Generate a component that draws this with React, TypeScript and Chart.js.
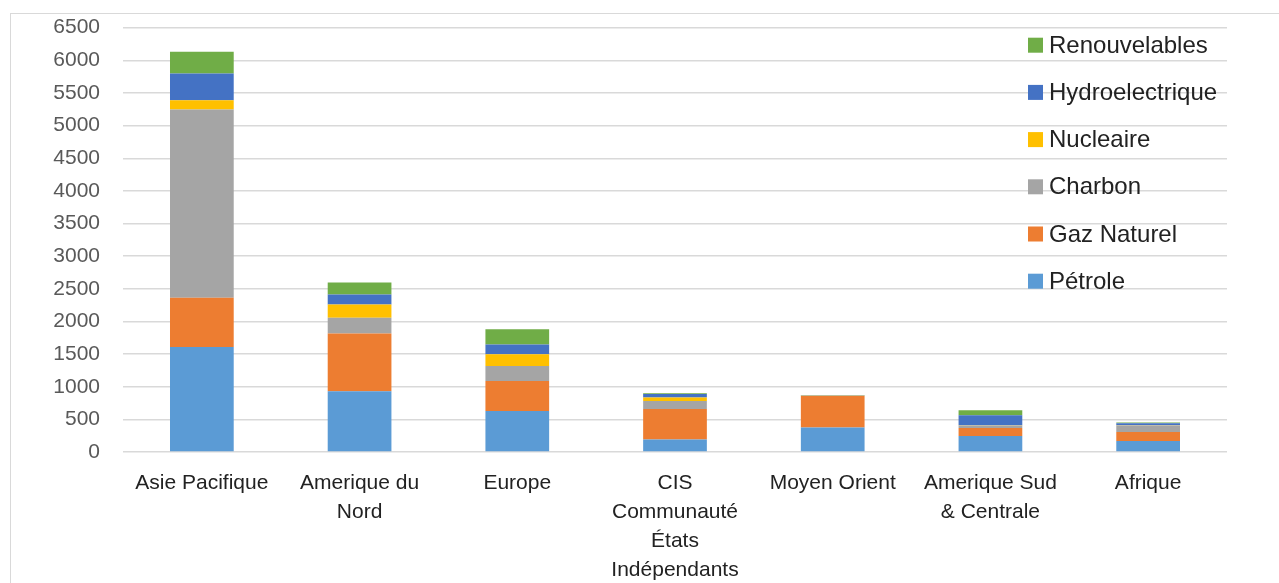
import React, { useEffect, useRef } from "react";
import { Chart, registerables } from "chart.js";

Chart.register(...registerables);

const categories: string[][] = [
  ["Asie Pacifique"],
  ["Amerique du", "Nord"],
  ["Europe"],
  ["CIS", "Communauté", "États", "Indépendants"],
  ["Moyen Orient"],
  ["Amerique Sud", "& Centrale"],
  ["Afrique"],
];

const petrole = [1610, 931, 629, 190, 374, 245, 169];
const gazNaturel = [752, 885, 460, 470, 485, 123, 138];
const charbon = [2883, 239, 230, 122, 3, 37, 98];
const nucleaire = [144, 206, 179, 52, 2, 5, 3];
const hydroelectrique = [409, 153, 149, 56, 5, 153, 32];
const renouvelables = [332, 184, 235, 10, 3, 77, 12];

const seriesNames = ["Pétrole", "Gaz Naturel", "Charbon", "Nucleaire", "Hydroelectrique", "Renouvelables"];
const seriesValues = [petrole, gazNaturel, charbon, nucleaire, hydroelectrique, renouvelables];
const seriesColors = ["#5B9BD5", "#ED7D31", "#A5A5A5", "#FFC000", "#4472C4", "#70AD47"];

const yMin = 0;
const yMax = 6500;
const yStep = 500;

const FONT = "'Liberation Sans', Arial, sans-serif";

const customLegend = {
  id: "customLegend",
  afterDraw(chart: any) {
    const ctx = chart.ctx;
    const area = chart.chartArea;
    const ds = chart.data.datasets;
    const x0 = area.right - 199;
    let y = area.top + 17.5;
    ctx.save();
    ctx.font = `24px ${FONT}`;
    ctx.textBaseline = "middle";
    ctx.textAlign = "left";
    for (let i = ds.length - 1; i >= 0; i--) {
      ctx.fillStyle = ds[i].backgroundColor;
      ctx.fillRect(x0, y - 7.5, 15, 15);
      ctx.fillStyle = "#222222";
      ctx.fillText(ds[i].label, x0 + 21, y + 1);
      y += 47.2;
    }
    ctx.restore();
  },
};

export default function App() {
  const canvasRef = useRef<HTMLCanvasElement | null>(null);

  useEffect(() => {
    if (!canvasRef.current) return;
    const chart = new Chart(canvasRef.current, {
      type: "bar",
      data: {
        labels: categories,
        datasets: seriesNames.map((name, i) => ({
          label: name,
          data: seriesValues[i],
          backgroundColor: seriesColors[i],
          borderWidth: 0,
          barPercentage: 0.404,
          categoryPercentage: 1,
        })),
      },
      options: {
        animation: false,
        responsive: true,
        maintainAspectRatio: false,
        layout: { padding: { top: 13.7, right: 52, bottom: 0, left: 0 } },
        plugins: {
          legend: { display: false },
          tooltip: { enabled: false },
        },
        scales: {
          x: {
            stacked: true,
            grid: { display: false, drawTicks: false },
            border: { display: false },
            ticks: {
              autoSkip: false,
              maxRotation: 0,
              minRotation: 0,
              padding: 17,
              color: "#222222",
              font: { family: FONT, size: 21, lineHeight: 29 / 21 },
            },
            afterFit: (s: any) => {
              s.height = 131;
            },
          },
          y: {
            stacked: true,
            min: yMin,
            max: yMax,
            grid: {
              color: "#d9d9d9",
              lineWidth: 1.5,
              drawTicks: true,
              tickLength: 23,
              tickColor: "rgba(0,0,0,0)",
            },
            border: { display: false },
            ticks: {
              stepSize: yStep,
              padding: 0,
              color: "#595959",
              font: { family: FONT, size: 21 },
              callback: (v: any) => String(v),
            },
            afterFit: (s: any) => {
              s.width = 112;
            },
          },
        },
      },
      plugins: [customLegend],
    });
    return () => chart.destroy();
  }, []);

  return (
    <div
      style={{
        position: "absolute",
        left: 10,
        top: 13,
        width: 1269,
        height: 570,
        borderLeft: "1.5px solid #d9d9d9",
        borderTop: "1.5px solid #d9d9d9",
        background: "#ffffff",
      }}
    >
      <div style={{ position: "relative", width: 1268, height: 569 }}>
        <canvas ref={canvasRef} />
      </div>
    </div>
  );
}
